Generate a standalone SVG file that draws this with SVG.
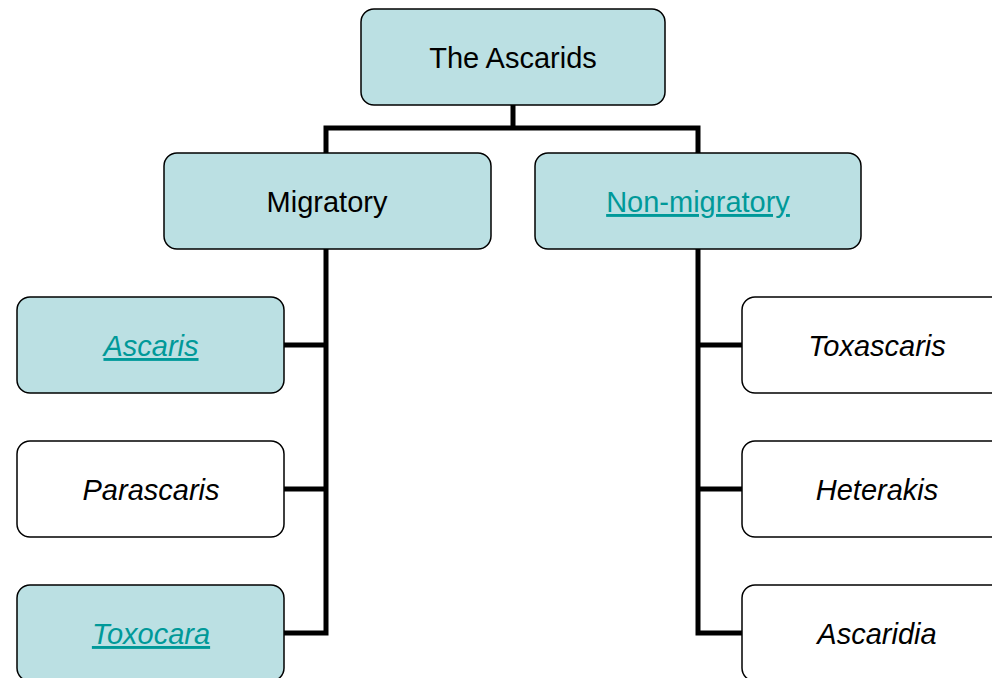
<svg xmlns="http://www.w3.org/2000/svg" width="992" height="678" viewBox="0 0 992 678">
<style>
.box{stroke:#000;stroke-width:1.5}
.fill{fill:#BBE0E3}
.white{fill:#fff}
.t{font-family:"Liberation Sans",Arial,sans-serif;font-size:29px;text-anchor:middle;fill:#000}
.i{font-style:italic}
.link{fill:#009999;text-decoration:underline}
.c{fill:none;stroke:#000;stroke-width:5;stroke-linejoin:miter;stroke-linecap:butt}
</style>
<rect width="992" height="678" fill="#fff"/>
<g id="connectors">
<polyline class="c" points="513,105 513,128"/>
<polyline class="c" points="326,153 326,128 698,128 698,153"/>
<polyline class="c" points="326,249 326,633 284,633"/>
<line class="c" x1="326" y1="345" x2="284" y2="345"/>
<line class="c" x1="326" y1="489" x2="284" y2="489"/>
<polyline class="c" points="698,249 698,633 742,633"/>
<line class="c" x1="698" y1="345" x2="742" y2="345"/>
<line class="c" x1="698" y1="489" x2="742" y2="489"/>
</g>
<g id="root">
<rect class="box fill" x="361" y="9" width="304" height="96" rx="13"/>
<text class="t" x="513" y="68">The Ascarids</text>
</g>
<g id="migratory">
<rect class="box fill" x="164" y="153" width="327" height="96" rx="13"/>
<text class="t" x="327" y="212">Migratory</text>
</g>
<g id="non-migratory">
<rect class="box fill" x="535" y="153" width="326" height="96" rx="13"/>
<text class="t link" x="698" y="212">Non-migratory</text>
</g>
<g id="ascaris">
<rect class="box fill" x="17" y="297" width="267" height="96" rx="13"/>
<text class="t i link" x="151" y="356">Ascaris</text>
</g>
<g id="parascaris">
<rect class="box white" x="17" y="441" width="267" height="96" rx="13"/>
<text class="t i" x="151" y="500">Parascaris</text>
</g>
<g id="toxocara">
<rect class="box fill" x="17" y="585" width="267" height="96" rx="13"/>
<text class="t i link" x="151" y="644">Toxocara</text>
</g>
<g id="toxascaris">
<rect class="box white" x="742" y="297" width="267" height="96" rx="13"/>
<text class="t i" x="877" y="356">Toxascaris</text>
</g>
<g id="heterakis">
<rect class="box white" x="742" y="441" width="267" height="96" rx="13"/>
<text class="t i" x="877" y="500">Heterakis</text>
</g>
<g id="ascaridia">
<rect class="box white" x="742" y="585" width="267" height="96" rx="13"/>
<text class="t i" x="877" y="644">Ascaridia</text>
</g>
</svg>
